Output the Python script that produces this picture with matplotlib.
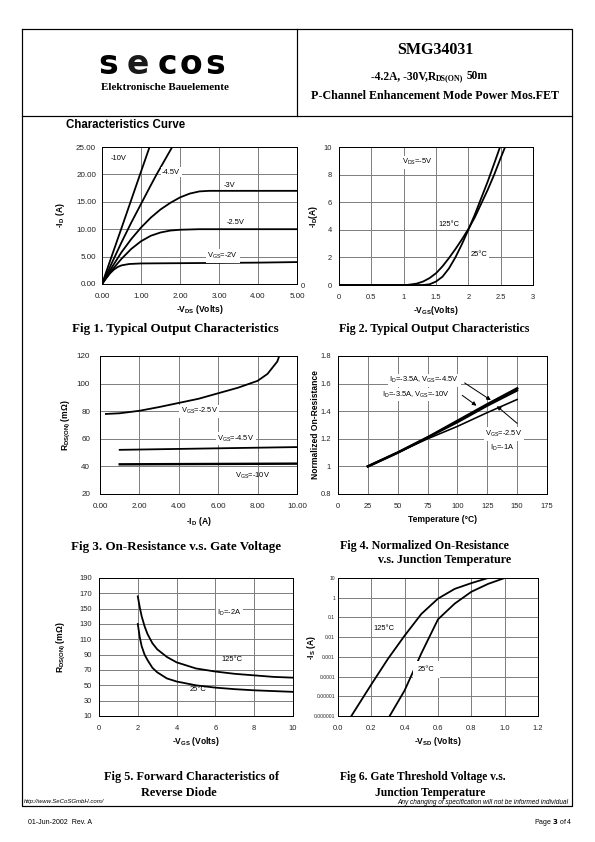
import numpy as np
import matplotlib
matplotlib.use("Agg")
import matplotlib.pyplot as plt

plt.rcParams['font.family'] = ['Liberation Sans', 'DejaVu Sans']
plt.rcParams['mathtext.default'] = 'regular'

W, H = 595, 842
SERIF = ['Liberation Serif', 'DejaVu Serif']

# ---- data ----
# Fig 1: -ID vs -VDS for several VGS
f1_vgs2_x = [0, 0.1, 0.2, 0.3, 0.4, 0.5, 0.7, 1.0, 2.0, 3.0, 4.0, 5.0]
f1_vgs2_y = [0, 1.0, 1.9, 2.6, 3.1, 3.4, 3.65, 3.75, 3.8, 3.85, 3.9, 4.0]
f1_vgs25_x = [0, 0.25, 0.5, 0.75, 1.0, 1.25, 1.5, 1.75, 2.0, 2.5, 5.0]
f1_vgs25_y = [0, 2.5, 4.6, 6.4, 7.8, 8.8, 9.4, 9.75, 9.9, 10.0, 10.0]
f1_vgs3_x = [0, 0.25, 0.5, 0.75, 1.0, 1.25, 1.5, 1.75, 2.0, 2.25, 2.5, 2.75, 5.0]
f1_vgs3_y = [0, 3.0, 5.8, 8.2, 10.3, 12.1, 13.6, 14.8, 15.8, 16.5, 16.9, 17.0, 17.0]
f1_vgs45_x = [0, 0.25, 0.5, 0.75, 1.0, 1.25, 1.4, 1.8]
f1_vgs45_y = [0, 3.8, 7.6, 11.2, 14.6, 18.0, 20.0, 25.0]
f1_vgs10_x = [0, 0.5, 1.0, 1.22]
f1_vgs10_y = [0, 10.2, 20.5, 25.0]

# Fig 2: -ID vs -VGS at VDS=-5V
f2_25_x = [0, 1.3, 1.4, 1.5, 1.6, 1.7, 1.8, 1.9, 2.0, 2.1, 2.2, 2.3, 2.4, 2.49]
f2_25_y = [0, 0, 0.05, 0.25, 0.6, 1.2, 2.0, 2.95, 4.0, 5.1, 6.3, 7.5, 8.8, 10.0]
f2_125_x = [0, 1.05, 1.2, 1.3, 1.4, 1.5, 1.6, 1.7, 1.8, 1.9, 2.0, 2.1, 2.2, 2.3, 2.4, 2.5, 2.56]
f2_125_y = [0, 0, 0.1, 0.25, 0.5, 0.85, 1.35, 1.95, 2.6, 3.3, 4.05, 4.9, 5.9, 6.9, 8.0, 9.2, 9.9]

# Fig 3: RDS(ON) vs -ID
f3_25_x = [0.3, 1, 2, 3, 4, 5, 6, 7, 7.5, 8, 8.5, 9, 9.1]
f3_25_y = [78, 78.5, 80.3, 83, 86, 89, 93, 97, 99.5, 102, 107, 116, 120]
f3_45_x = [1, 10]
f3_45_y = [52, 54]
f3_10_x = [1, 10]
f3_10_y = [41.5, 42]

# Fig 4: normalized on-resistance vs temperature
f4_t = [25, 50, 75, 100, 125, 150]
f4_45 = [1.0, 1.1, 1.21, 1.33, 1.45, 1.565]
f4_10 = [1.0, 1.1, 1.21, 1.32, 1.44, 1.55]
f4_25 = [1.0, 1.1, 1.2, 1.29, 1.39, 1.485]

# Fig 5: RDS(ON) vs -VGS, ID=-2A
f5_x = [2, 2.1, 2.2, 2.35, 2.5, 2.75, 3, 3.5, 4, 5, 6, 7, 8, 9, 10]
f5_125 = [166, 152, 140, 127, 117, 105, 97, 87, 80, 72, 68, 65, 63, 61, 60]
f5_25 = [130, 113, 101, 90, 83, 73, 67, 59, 55, 50, 47, 45, 43.5, 42.5, 41.5]

# Fig 6: -IS vs -VSD
f6_125_x = [0.08, 0.2, 0.3, 0.4, 0.5, 0.6, 0.7, 0.8, 0.9]
f6_125_y = [1e-6, 4e-5, 8e-4, 0.012, 0.15, 0.9, 2.8, 5.5, 10]
f6_25_x = [0.31, 0.4, 0.5, 0.6, 0.7, 0.8, 0.9, 1.0]
f6_25_y = [1e-6, 2e-5, 1.5e-3, 0.08, 0.5, 2.0, 5.0, 10]
f6_yticks = [1e-6, 1e-5, 1e-4, 1e-3, 1e-2, 1e-1, 1, 10]
f6_ylabels = ["0.000001", "0.00001", "0.0001", "0.001", "0.01", "0.1", "1", "10"]

fig = plt.figure(figsize=(W / 72, H / 72), dpi=72)

# page layer in pixel coordinates
page = fig.add_axes([0, 0, 1, 1])
page.set_xlim(0, W)
page.set_ylim(H, 0)
page.axis("off")


def px_axes(l, t, r, b):
    ax = fig.add_axes([l / W, 1 - b / H, (r - l) / W, (b - t) / H])
    ax._px = (l, t, r, b)
    return ax


def label_at(ax, ylabel, xlabel, ylab_x, xlab_y, fs=8.5):
    # place axis labels at page pixel positions (label centres)
    l, t, r, b = ax._px
    ax.set_ylabel(ylabel, fontweight="bold", fontsize=fs)
    ax.set_xlabel(xlabel, fontweight="bold", fontsize=fs)
    ax.yaxis.set_label_coords((ylab_x + fs * 0.55 - l) / (r - l), 0.5)
    ax.xaxis.set_label_coords(0.5, (b - (xlab_y - fs * 0.55)) / (b - t))


# frame and header
page.plot([22, 572, 572, 22, 22], [29, 29, 806, 806, 29], color="black", lw=1.2)
page.plot([22, 572], [116, 116], color="black", lw=1.2)
page.plot([297, 297], [29, 116], color="black", lw=1.2)

for ch, cx in zip("secos", [108, 138, 167, 191, 215]):
    page.text(cx, 74, ch, fontsize=33, fontweight="heavy", family=["DejaVu Sans"],
              ha="center", va="baseline", color="black" if ch != "e" else "#1a1a1a")
page.text(165, 87, "Elektronische Bauelemente", family=SERIF, fontweight="bold",
          fontsize=11, ha="center", va="center")
page.text(435, 50, "SMG34031", family=SERIF, fontweight="bold", fontsize=16,
          ha="center", va="center")
t1 = page.text(371, 79, "-4.2A, -30V,R", family=SERIF, fontweight="bold", fontsize=11.5,
               ha="left", va="baseline")
page.annotate("DS(ON)", xy=(1, 0), xycoords=t1, family=SERIF, fontweight="bold",
              fontsize=8, ha="left", va="bottom")
page.text(467, 79, "50m", family=SERIF, fontweight="bold", fontsize=11.5,
          ha="left", va="baseline")
page.text(435, 96, "P-Channel Enhancement Mode Power Mos.FET", family=SERIF,
          fontweight="bold", fontsize=12, ha="center", va="center")

page.text(66, 125, "Characteristics Curve", fontweight="bold", fontsize=11.5,
          ha="left", va="center")

# captions
cap = dict(family=SERIF, fontweight="bold", va="center")
page.text(175, 329, "Fig 1. Typical Output Characteristics", ha="center", fontsize=13, **cap)
page.text(434, 329, "Fig 2. Typical Output Characteristics", ha="center", fontsize=12, **cap)
page.text(176, 547, "Fig 3. On-Resistance v.s. Gate Voltage", ha="center", fontsize=13, **cap)
page.text(340, 546, "Fig 4. Normalized On-Resistance", ha="left", fontsize=12, **cap)
page.text(378, 560, "v.s. Junction Temperature", ha="left", fontsize=12, **cap)
page.text(191, 777, "Fig 5. Forward Characteristics of", ha="center", fontsize=12.3, **cap)
page.text(179, 793, "Reverse Diode", ha="center", fontsize=12.3, **cap)
page.text(423, 777, "Fig 6. Gate Threshold Voltage v.s.", ha="center", fontsize=11.6, **cap)
page.text(430, 793, "Junction Temperature", ha="center", fontsize=11.6, **cap)

page.text(24, 802, "http://www.SeCoSGmbH.com/", fontsize=6, style="italic",
          ha="left", va="center")
page.text(568, 802, "Any changing of specification will not be informed individual",
          fontsize=6.5, style="italic", ha="right", va="center")
page.text(28, 822, "01-Jun-2002  Rev. A", fontsize=7, ha="left", va="center")
page.text(573, 822, r"Page $\mathbf{3}$ of 4", fontsize=7, ha="right", va="center")
page.text(303, 287, "0", fontsize=7.5, ha="center", va="center", color="#222222")


def style(ax, xlim, ylim, xticks, yticks, xfmt=None, yfmt=None, tick_fs=7.5, ypad=7):
    ax.set_xlim(*xlim)
    ax.set_ylim(*ylim)
    ax.set_xticks(xticks)
    ax.set_yticks(yticks)
    if xfmt:
        ax.set_xticklabels([xfmt % v for v in xticks])
    if yfmt:
        ax.set_yticklabels([yfmt % v for v in yticks])
    ax.grid(True, color="#808080", lw=1.0)
    ax.set_axisbelow(True)
    ax.tick_params(length=0, labelsize=tick_fs, colors="#222222")
    ax.tick_params(axis="x", pad=9)
    ax.tick_params(axis="y", pad=ypad)
    for s in ax.spines.values():
        s.set_linewidth(1.0)
        s.set_color("black")


ann = dict(fontsize=7.5, ha="left", va="center")
wbox = dict(facecolor="white", edgecolor="none", pad=1.5)
LW = 1.8

# Fig 1
ax = px_axes(102, 147, 297, 284)
style(ax, (0, 5), (0, 25), [0, 1, 2, 3, 4, 5], [0, 5, 10, 15, 20, 25], "%.2f", "%.2f",
      tick_fs=8, ypad=6)
for x, y in [(f1_vgs2_x, f1_vgs2_y), (f1_vgs25_x, f1_vgs25_y), (f1_vgs3_x, f1_vgs3_y),
             (f1_vgs45_x, f1_vgs45_y), (f1_vgs10_x, f1_vgs10_y)]:
    ax.plot(x, y, color="black", lw=LW)
ax.text(0.21, 22.9, "-10V", **ann)
ax.text(1.54, 20.4, "-4.5V", bbox=wbox, **ann)
ax.text(3.12, 17.9, "-3V", **ann)
ax.text(3.2, 11.3, "-2.5V", **ann)
ax.text(2.7, 5.1, "V$_{GS}$=-2V", bbox=wbox, **ann)
label_at(ax, "-I$_D$ (A)", "-V$_{DS}$ (Volts)", 62, 308)

# Fig 2
ax = px_axes(339, 147, 533, 285)
style(ax, (0, 3), (0, 10), [0, 0.5, 1, 1.5, 2, 2.5, 3], [0, 2, 4, 6, 8, 10], "%g", "%g")
ax.plot(f2_25_x, f2_25_y, color="black", lw=LW)
ax.plot(f2_125_x, f2_125_y, color="black", lw=LW)
ax.text(0.97, 8.9, "V$_{DS}$=-5V", bbox=wbox, **ann)
ax.text(1.53, 4.4, "125°C", **ann)
ax.text(2.04, 2.2, "25°C", bbox=wbox, **ann)
label_at(ax, "-I$_D$(A)", "-V$_{GS}$(Volts)", 315, 309)

# Fig 3
ax = px_axes(100, 356, 297, 494)
style(ax, (0, 10), (20, 120), [0, 2, 4, 6, 8, 10], [20, 40, 60, 80, 100, 120], "%.2f", "%g",
      tick_fs=8, ypad=10)
ax.plot(f3_25_x, f3_25_y, color="black", lw=LW)
ax.plot(f3_45_x, f3_45_y, color="black", lw=LW)
ax.plot(f3_10_x, f3_10_y, color="black", lw=2.4)
ax.text(4.1, 80, "V$_{GS}$=-2.5V", bbox=wbox, **ann)
ax.text(5.95, 60, "V$_{GS}$=-4.5V", bbox=wbox, **ann)
ax.text(6.86, 33, "V$_{GS}$=-10V", **ann)
label_at(ax, "R$_{DS(ON)}$ (mΩ)", "-I$_D$ (A)", 68, 520)

# Fig 4
ax = px_axes(338, 356, 547, 494)
style(ax, (0, 175), (0.8, 1.8), [0, 25, 50, 75, 100, 125, 150, 175],
      [0.8, 1.0, 1.2, 1.4, 1.6, 1.8], "%g", "%g")
ax.plot(f4_t, f4_45, color="black", lw=2.6)
ax.plot(f4_t, f4_10, color="black", lw=2.2)
ax.plot(f4_t, f4_25, color="black", lw=1.6)
ax.text(43, 1.625, "I$_D$=-3.5A, V$_{GS}$=-4.5V", bbox=wbox, **ann)
ax.text(37, 1.52, "I$_D$=-3.5A, V$_{GS}$=-10V", bbox=wbox, **ann)
ax.text(123.4, 1.235, "V$_{GS}$=-2.5V", bbox=wbox, **ann)
ax.text(127, 1.132, "I$_D$=-1A", bbox=wbox, **ann)
arr = dict(arrowstyle="-|>", color="black", lw=1.0, mutation_scale=8, shrinkA=0, shrinkB=0)
ax.annotate("", xy=(128, 1.48), xytext=(106, 1.605), arrowprops=arr)
ax.annotate("", xy=(116, 1.44), xytext=(104, 1.515), arrowprops=arr)
ax.annotate("", xy=(133, 1.437), xytext=(150, 1.312), arrowprops=arr)
label_at(ax, "Normalized On-Resistance", "Temperature (°C)", 315, 520)

# Fig 5
ax = px_axes(99, 578, 293, 716)
style(ax, (0, 10), (10, 190), [0, 2, 4, 6, 8, 10], list(range(10, 191, 20)), "%g", "%g")
ax.plot(f5_x, f5_125, color="black", lw=LW)
ax.plot(f5_x, f5_25, color="black", lw=LW)
ax.text(6.1, 145, "I$_D$=-2A", bbox=wbox, **ann)
ax.text(6.3, 84, "125°C", **ann)
ax.text(4.65, 45, "25°C", **ann)
label_at(ax, "R$_{DS(ON)}$ (mΩ)", "-V$_{GS}$ (Volts)", 63, 740)

# Fig 6
ax = px_axes(338, 578, 538, 716)
ax.set_yscale("log")
style(ax, (0, 1.2), (1e-6, 10), [0, 0.2, 0.4, 0.6, 0.8, 1.0, 1.2], f6_yticks, "%.1f",
      ypad=3)
ax.minorticks_off()
ax.set_yticks(f6_yticks)
ax.set_yticklabels(f6_ylabels, fontsize=5)
ax.plot(f6_125_x, f6_125_y, color="black", lw=LW)
ax.plot(f6_25_x, f6_25_y, color="black", lw=LW)
ax.text(0.21, 0.028, "125°C", **ann)
ax.text(0.48, 2.3e-4, "25°C", bbox=dict(facecolor="white", edgecolor="none", pad=5), **ann)
label_at(ax, "-I$_S$ (A)", "-V$_{SD}$ (Volts)", 313, 740)

plt.savefig("out.png", dpi=72)
